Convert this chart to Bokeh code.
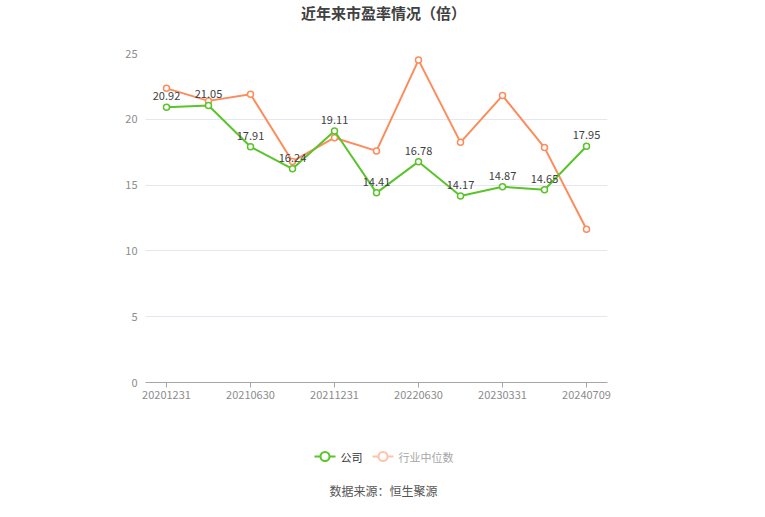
from bokeh.plotting import figure
from bokeh.models import ColumnDataSource, FixedTicker, Range1d
from bokeh.layouts import column
from bokeh.embed import file_html
from bokeh.resources import INLINE
from bokeh.core.properties import value

# ---- data ----
dates = ["20201231", "20210331", "20210630", "20210930", "20211231", "20220331",
         "20220630", "20221231", "20230331", "20231231", "20240709"]
company = [20.92, 21.05, 17.91, 16.24, 19.11, 14.41, 16.78, 14.17, 14.87, 14.65, 17.95]
industry = [22.35, 21.4, 21.9, 16.8, 18.6, 17.6, 24.5, 18.25, 21.8, 17.85, 11.65]
shown_ticks = [0, 2, 4, 6, 8, 10]
y_ticks = [0, 5, 10, 15, 20, 25]

title_text = "近年来市盈率情况（倍）"
source_text = "数据来源：恒生聚源"
legend_names = ["公司", "行业中位数"]

GREEN = "#5ac42a"
ORANGE = "#fd8c5c"
ORANGE_LIGHT = "#ffc3aa"
FONT = "Noto Sans CJK SC"
L, R, FW = 145, 142, 462   # borders and frame width shared by all strips


def blank(height):
    # strip whose frame is aligned with the chart frame; x = page x, y = px up from bottom
    f = figure(frame_width=FW, frame_height=height, output_backend="svg",
               toolbar_location=None, x_axis_type=None, y_axis_type=None,
               min_border_left=L, min_border_right=R, min_border_top=0, min_border_bottom=0,
               x_range=Range1d(L, L + FW), y_range=Range1d(0, height))
    f.outline_line_color = None
    f.grid.grid_line_color = None
    f.background_fill_color = "white"
    f.border_fill_color = "white"
    return f


# ---- title strip (page y 0..43) ----
TOP_H = 43
top = blank(TOP_H)
top.text(x=[383], y=[TOP_H - 12], text=[title_text], text_align="center",
         text_baseline="middle", text_font=value(FONT), text_font_size="15px",
         text_font_style="bold", text_color="#404040")

# ---- main chart ----
xs = list(range(len(dates)))
src = ColumnDataSource(dict(x=xs, c=company, i=industry,
                            lbl=[f"{v:.2f}" for v in company]))

p = figure(frame_width=FW, frame_height=329, output_backend="svg", toolbar_location=None,
           x_range=Range1d(-0.5, len(dates) - 0.5), y_range=Range1d(0, 25),
           min_border_left=L, min_border_right=R, min_border_top=10, min_border_bottom=30)
p.outline_line_color = None
p.background_fill_color = "white"
p.border_fill_color = "white"

p.xaxis.ticker = FixedTicker(ticks=shown_ticks)
p.xaxis.major_label_overrides = {i: dates[i] for i in shown_ticks}
p.xaxis.axis_line_color = "#a6a6a6"
p.xaxis.major_tick_line_color = "#a6a6a6"
p.xaxis.major_tick_out = 5
p.xaxis.major_tick_in = 0
p.xaxis.minor_tick_line_color = None
p.xaxis.major_label_text_color = "#8c8c8c"
p.xaxis.major_label_text_font = FONT
p.xaxis.major_label_text_font_size = "11px"
p.xaxis.major_label_standoff = 3

p.yaxis.ticker = FixedTicker(ticks=y_ticks)
p.yaxis.axis_line_color = None
p.yaxis.major_tick_line_color = None
p.yaxis.major_tick_out = 0
p.yaxis.major_tick_in = 0
p.yaxis.minor_tick_line_color = None
p.yaxis.major_label_text_color = "#8c8c8c"
p.yaxis.major_label_text_font = FONT
p.yaxis.major_label_text_font_size = "11px"
p.yaxis.major_label_standoff = 8

p.xgrid.grid_line_color = None
p.ygrid.grid_line_color = "#e3e7f0"
p.ygrid.grid_line_width = 1

p.line("x", "i", source=src, line_color=ORANGE, line_width=2)
p.scatter("x", "i", source=src, size=6, marker="circle", line_color=ORANGE,
          fill_color="white", line_width=1.5)
p.line("x", "c", source=src, line_color=GREEN, line_width=2)
p.scatter("x", "c", source=src, size=6, marker="circle", line_color=GREEN,
          fill_color="white", line_width=1.5)
p.text("x", "c", text="lbl", source=src, text_align="center", text_baseline="bottom",
       y_offset=-7, text_font=value(FONT), text_font_size="11px", text_color="#404040")

# ---- legend + source strip (page y 412..501) ----
BOT_H = 89
bot = blank(BOT_H)
leg_y = BOT_H - (456 - 412)
bot.segment(x0=[314], y0=[leg_y], x1=[335], y1=[leg_y], line_color=GREEN, line_width=2)
bot.scatter(x=[324.5], y=[leg_y], size=9, marker="circle", line_color=GREEN,
            fill_color="white", line_width=2)
bot.text(x=[340], y=[leg_y], text=[legend_names[0]], text_align="left",
         text_baseline="middle", text_font=value(FONT), text_font_size="11px",
         text_color="#333333")
bot.segment(x0=[372], y0=[leg_y], x1=[393], y1=[leg_y], line_color=ORANGE_LIGHT,
            line_width=2)
bot.scatter(x=[382.5], y=[leg_y], size=9, marker="circle", line_color=ORANGE_LIGHT,
            fill_color="white", line_width=2)
bot.text(x=[398], y=[leg_y], text=[legend_names[1]], text_align="left",
         text_baseline="middle", text_font=value(FONT), text_font_size="11px",
         text_color="#a6a6a6")
bot.text(x=[383], y=[BOT_H - (490 - 412)], text=[source_text], text_align="center",
         text_baseline="middle", text_font=value(FONT), text_font_size="12px",
         text_color="#555555")

layout = column(top, p, bot, spacing=0)
open("out.html", "w").write(file_html(layout, INLINE))
